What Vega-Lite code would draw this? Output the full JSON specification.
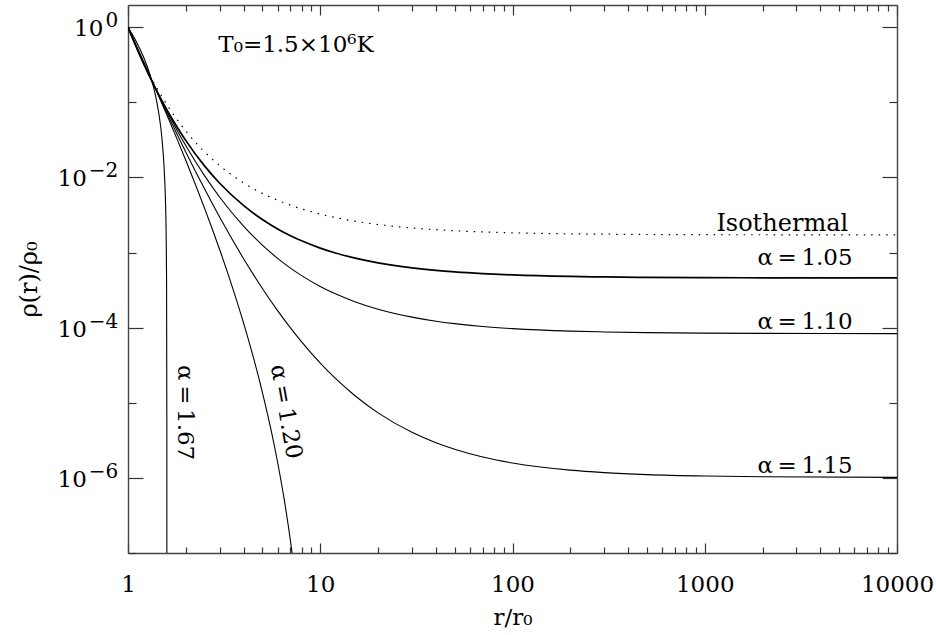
{
  "$schema": "https://vega.github.io/schema/vega-lite/v6.json",
  "width": 769,
  "height": 548,
  "autosize": {"type": "none"},
  "padding": {"left": 128, "top": 5, "right": 39, "bottom": 82},
  "background": "white",
  "config": {"view": {"stroke": null}, "font": "DejaVu Serif"},
  "datasets": {
    "curves": [
      {"curve": "iso", "r": 1, "rho": 1}, {"curve": "iso", "r": 1.1, "rho": 0.5607}, {"curve": "iso", "r": 1.2, "rho": 0.3462}, {"curve": "iso", "r": 1.3, "rho": 0.2302}, {"curve": "iso", "r": 1.4, "rho": 0.1623}, {"curve": "iso", "r": 1.5, "rho": 0.1199}, {"curve": "iso", "r": 1.6, "rho": 0.09191}, {"curve": "iso", "r": 1.8, "rho": 0.05907}, {"curve": "iso", "r": 2, "rho": 0.04148}, {"curve": "iso", "r": 2.5, "rho": 0.02195}, {"curve": "iso", "r": 3, "rho": 0.01436}, {"curve": "iso", "r": 4, "rho": 0.00845}, {"curve": "iso", "r": 5, "rho": 0.006145}, {"curve": "iso", "r": 6, "rho": 0.00497}, {"curve": "iso", "r": 7, "rho": 0.004272}, {"curve": "iso", "r": 8, "rho": 0.003813}, {"curve": "iso", "r": 10, "rho": 0.003252}, {"curve": "iso", "r": 12, "rho": 0.002924}, {"curve": "iso", "r": 15, "rho": 0.00263}, {"curve": "iso", "r": 20, "rho": 0.002365}, {"curve": "iso", "r": 30, "rho": 0.002127}, {"curve": "iso", "r": 40, "rho": 0.002017}, {"curve": "iso", "r": 50, "rho": 0.001954}, {"curve": "iso", "r": 70, "rho": 0.001884}, {"curve": "iso", "r": 100, "rho": 0.001834}, {"curve": "iso", "r": 200, "rho": 0.001776}, {"curve": "iso", "r": 300, "rho": 0.001758}, {"curve": "iso", "r": 500, "rho": 0.001742}, {"curve": "iso", "r": 1000, "rho": 0.001731}, {"curve": "iso", "r": 2000, "rho": 0.001727}, {"curve": "iso", "r": 10000, "rho": 0.001722},

      {"curve": "1.05", "r": 1, "rho": 1}, {"curve": "1.05", "r": 1.1, "rho": 0.5549}, {"curve": "1.05", "r": 1.2, "rho": 0.3353}, {"curve": "1.05", "r": 1.3, "rho": 0.2167}, {"curve": "1.05", "r": 1.4, "rho": 0.1478}, {"curve": "1.05", "r": 1.5, "rho": 0.1055}, {"curve": "1.05", "r": 1.6, "rho": 0.07818}, {"curve": "1.05", "r": 1.8, "rho": 0.04696}, {"curve": "1.05", "r": 2, "rho": 0.03094}, {"curve": "1.05", "r": 2.5, "rho": 0.01427}, {"curve": "1.05", "r": 3, "rho": 0.008371}, {"curve": "1.05", "r": 4, "rho": 0.004211}, {"curve": "1.05", "r": 5, "rho": 0.002756}, {"curve": "1.05", "r": 6, "rho": 0.002067}, {"curve": "1.05", "r": 7, "rho": 0.00168}, {"curve": "1.05", "r": 8, "rho": 0.001434}, {"curve": "1.05", "r": 10, "rho": 0.001148}, {"curve": "1.05", "r": 12, "rho": 0.0009886}, {"curve": "1.05", "r": 15, "rho": 0.0008501}, {"curve": "1.05", "r": 20, "rho": 0.0007301}, {"curve": "1.05", "r": 30, "rho": 0.0006265}, {"curve": "1.05", "r": 40, "rho": 0.00058}, {"curve": "1.05", "r": 50, "rho": 0.0005538}, {"curve": "1.05", "r": 70, "rho": 0.0005252}, {"curve": "1.05", "r": 100, "rho": 0.0005045}, {"curve": "1.05", "r": 200, "rho": 0.0004815}, {"curve": "1.05", "r": 300, "rho": 0.0004742}, {"curve": "1.05", "r": 500, "rho": 0.0004682}, {"curve": "1.05", "r": 1000, "rho": 0.0004638}, {"curve": "1.05", "r": 2000, "rho": 0.0004617}, {"curve": "1.05", "r": 10000, "rho": 0.0004599},

      {"curve": "1.10", "r": 1, "rho": 1}, {"curve": "1.10", "r": 1.1, "rho": 0.5656}, {"curve": "1.10", "r": 1.2, "rho": 0.3428}, {"curve": "1.10", "r": 1.3, "rho": 0.2199}, {"curve": "1.10", "r": 1.4, "rho": 0.1478}, {"curve": "1.10", "r": 1.5, "rho": 0.1034}, {"curve": "1.10", "r": 1.6, "rho": 0.07479}, {"curve": "1.10", "r": 1.8, "rho": 0.04256}, {"curve": "1.10", "r": 2, "rho": 0.02647}, {"curve": "1.10", "r": 2.5, "rho": 0.01058}, {"curve": "1.10", "r": 3, "rho": 0.005463}, {"curve": "1.10", "r": 4, "rho": 0.002236}, {"curve": "1.10", "r": 5, "rho": 0.0012556}, {"curve": "1.10", "r": 6, "rho": 0.0008381}, {"curve": "1.10", "r": 7, "rho": 0.0006217}, {"curve": "1.10", "r": 8, "rho": 0.0004939}, {"curve": "1.10", "r": 10, "rho": 0.0003546}, {"curve": "1.10", "r": 12, "rho": 0.0002825}, {"curve": "1.10", "r": 15, "rho": 0.0002239}, {"curve": "1.10", "r": 20, "rho": 0.0001764}, {"curve": "1.10", "r": 30, "rho": 0.0001383}, {"curve": "1.10", "r": 40, "rho": 0.0001221}, {"curve": "1.10", "r": 50, "rho": 0.0001133}, {"curve": "1.10", "r": 70, "rho": 0.0001038}, {"curve": "1.10", "r": 100, "rho": 0.00009726}, {"curve": "1.10", "r": 200, "rho": 0.00009004}, {"curve": "1.10", "r": 300, "rho": 0.00008776}, {"curve": "1.10", "r": 500, "rho": 0.00008596}, {"curve": "1.10", "r": 1000, "rho": 0.00008464}, {"curve": "1.10", "r": 2000, "rho": 0.00008397}, {"curve": "1.10", "r": 10000, "rho": 0.00008346},

      {"curve": "1.15", "r": 1, "rho": 1}, {"curve": "1.15", "r": 1.1, "rho": 0.5758}, {"curve": "1.15", "r": 1.2, "rho": 0.3501}, {"curve": "1.15", "r": 1.3, "rho": 0.2228}, {"curve": "1.15", "r": 1.4, "rho": 0.1473}, {"curve": "1.15", "r": 1.5, "rho": 0.1007}, {"curve": "1.15", "r": 1.6, "rho": 0.07084}, {"curve": "1.15", "r": 1.8, "rho": 0.03771}, {"curve": "1.15", "r": 2, "rho": 0.02173}, {"curve": "1.15", "r": 2.5, "rho": 0.007056}, {"curve": "1.15", "r": 3, "rho": 0.002953}, {"curve": "1.15", "r": 4, "rho": 0.0008227}, {"curve": "1.15", "r": 5, "rho": 0.0003331}, {"curve": "1.15", "r": 6, "rho": 0.0001689}, {"curve": "1.15", "r": 7, "rho": 0.00009932}, {"curve": "1.15", "r": 8, "rho": 0.00006474}, {"curve": "1.15", "r": 10, "rho": 0.00003381}, {"curve": "1.15", "r": 12, "rho": 0.00002111}, {"curve": "1.15", "r": 15, "rho": 0.00001271}, {"curve": "1.15", "r": 20, "rho": 0.000007345}, {"curve": "1.15", "r": 30, "rho": 0.000004039}, {"curve": "1.15", "r": 40, "rho": 0.000002932}, {"curve": "1.15", "r": 50, "rho": 0.000002401}, {"curve": "1.15", "r": 70, "rho": 0.000001896}, {"curve": "1.15", "r": 100, "rho": 0.000001579}, {"curve": "1.15", "r": 200, "rho": 0.000001268}, {"curve": "1.15", "r": 300, "rho": 0.000001177}, {"curve": "1.15", "r": 500, "rho": 0.000001107}, {"curve": "1.15", "r": 1000, "rho": 0.000001058}, {"curve": "1.15", "r": 2000, "rho": 0.000001034}, {"curve": "1.15", "r": 10000, "rho": 0.000001015},

      {"curve": "1.20", "r": 1, "rho": 1}, {"curve": "1.20", "r": 1.1, "rho": 0.5855}, {"curve": "1.20", "r": 1.2, "rho": 0.3571}, {"curve": "1.20", "r": 1.3, "rho": 0.2254}, {"curve": "1.20", "r": 1.4, "rho": 0.1464}, {"curve": "1.20", "r": 1.5, "rho": 0.09751}, {"curve": "1.20", "r": 1.6, "rho": 0.06635}, {"curve": "1.20", "r": 1.8, "rho": 0.03243}, {"curve": "1.20", "r": 2, "rho": 0.01681}, {"curve": "1.20", "r": 2.25, "rho": 0.007885}, {"curve": "1.20", "r": 2.5, "rho": 0.003914}, {"curve": "1.20", "r": 2.75, "rho": 0.00203}, {"curve": "1.20", "r": 3, "rho": 0.00109}, {"curve": "1.20", "r": 3.5, "rho": 0.0003396}, {"curve": "1.20", "r": 4, "rho": 0.0001133}, {"curve": "1.20", "r": 4.5, "rho": 0.0000393}, {"curve": "1.20", "r": 5, "rho": 0.00001381}, {"curve": "1.20", "r": 5.5, "rho": 0.000004804}, {"curve": "1.20", "r": 6, "rho": 0.000001615}, {"curve": "1.20", "r": 6.5, "rho": 5.092e-7}, {"curve": "1.20", "r": 7, "rho": 1.446e-7}, {"curve": "1.20", "r": 7.15, "rho": 9.63e-8}, {"curve": "1.20", "r": 7.3, "rho": 6.3e-8},

      {"curve": "1.67", "r": 1, "rho": 1}, {"curve": "1.67", "r": 1.1, "rho": 0.6582}, {"curve": "1.67", "r": 1.2, "rho": 0.4119}, {"curve": "1.67", "r": 1.3, "rho": 0.2357}, {"curve": "1.67", "r": 1.35, "rho": 0.1684}, {"curve": "1.67", "r": 1.4, "rho": 0.113}, {"curve": "1.67", "r": 1.45, "rho": 0.0684}, {"curve": "1.67", "r": 1.5, "rho": 0.03411}, {"curve": "1.67", "r": 1.53846, "rho": 0.01471}, {"curve": "1.67", "r": 1.55, "rho": 0.01016}, {"curve": "1.67", "r": 1.5625, "rho": 0.00596}, {"curve": "1.67", "r": 1.58, "rho": 0.001576}, {"curve": "1.67", "r": 1.5873, "rho": 0.0004161}, {"curve": "1.67", "r": 1.5921, "rho": 0.00000619}, {"curve": "1.67", "r": 1.5924, "rho": 1e-8}
    ],
    "alphaLabels": [
      {"r": 5875, "rho": 0.000689, "text": "α\u2009=\u20091.05"},
      {"r": 5875, "rho": 0.000096, "text": "α\u2009=\u20091.10"},
      {"r": 5875, "rho": 0.000001167, "text": "α\u2009=\u20091.15"}
    ],
    "isoLabel": [{"r": 5570, "rho": 0.00191, "text": "Isothermal"}],
    "tempLabel": [{"r": 2.95, "rho": 0.47, "text": "T₀=1.5×10⁶K"}],
    "label167": [{"r": 1.986, "rho": 0.0000074, "text": "α\u2009=\u20091.67"}],
    "label120": [{"r": 6.62, "rho": 0.0000076, "text": "α\u2009=\u20091.20"}],
    "yTicks": [
      {"rho": 1, "base": "10", "exp": "0"},
      {"rho": 0.01, "base": "10", "exp": "−2"},
      {"rho": 0.0001, "base": "10", "exp": "−4"},
      {"rho": 0.000001, "base": "10", "exp": "−6"}
    ]
  },
  "layer": [
    {
      "data": {"name": "curves"},
      "transform": [{"filter": "datum.curve == '1.05'"}],
      "mark": {"type": "line", "interpolate": "monotone", "clip": true, "color": "black", "strokeWidth": 1.7},
      "encoding": {
        "x": {
          "field": "r", "type": "quantitative",
          "scale": {"type": "log", "domain": [1, 10000], "nice": false},
          "axis": {
            "orient": "bottom",
            "values": [1,2,3,4,5,6,7,8,9,10,20,30,40,50,60,70,80,90,100,200,300,400,500,600,700,800,900,1000,2000,3000,4000,5000,6000,7000,8000,9000,10000],
            "format": "d",
            "labelExpr": "(datum.value==1||datum.value==10||datum.value==100||datum.value==1000||datum.value==10000) ? datum.label : ''",
            "tickSize": {"condition": {"test": "datum.value==1||datum.value==10||datum.value==100||datum.value==1000||datum.value==10000", "value": -10}, "value": -6},
            "tickColor": "#333", "tickWidth": 1.2,
            "domainColor": "#444", "domainWidth": 1.4,
            "labelFontSize": 23, "labelColor": "black", "labelPadding": 30, "labelFlush": false, "labelOverlap": false,
            "grid": false,
            "title": "r/r₀", "titleFontSize": 23, "titleFontWeight": "normal", "titleColor": "black", "titlePadding": 6
          }
        },
        "y": {
          "field": "rho", "type": "quantitative",
          "scale": {"type": "log", "domain": [1e-7, 1.98], "nice": false},
          "axis": {
            "orient": "left",
            "values": [1e-7, 1e-6, 1e-5, 1e-4, 1e-3, 1e-2, 1e-1, 1],
            "labels": false,
            "tickSize": {"condition": {"test": "abs(datum.value-1)<1e-6 || abs(datum.value/0.01-1)<1e-6 || abs(datum.value/0.0001-1)<1e-6 || abs(datum.value/0.000001-1)<1e-6", "value": -15}, "value": -8},
            "tickColor": "#333", "tickWidth": 1.2,
            "domainColor": "#444", "domainWidth": 1.4,
            "grid": false,
            "title": "ρ(r)/ρ₀", "titleFontSize": 24, "titleFontWeight": "normal", "titleColor": "black", "titlePadding": 86
          }
        }
      }
    },
    {
      "data": {"name": "curves"},
      "transform": [{"filter": "datum.curve != '1.05' && datum.curve != 'iso'"}],
      "mark": {"type": "line", "interpolate": "monotone", "clip": true, "color": "black", "strokeWidth": 1.1},
      "encoding": {
        "x": {"field": "r", "type": "quantitative", "scale": {"type": "log", "domain": [1, 10000], "nice": false}, "axis": null},
        "y": {"field": "rho", "type": "quantitative", "scale": {"type": "log", "domain": [1e-7, 1.98], "nice": false}, "axis": null},
        "detail": {"field": "curve"}
      }
    },
    {
      "data": {"name": "curves"},
      "transform": [{"filter": "datum.curve == 'iso'"}],
      "mark": {"type": "line", "interpolate": "monotone", "clip": true, "color": "black", "strokeWidth": 1.2, "strokeDash": [1.5, 6]},
      "encoding": {
        "x": {
          "field": "r", "type": "quantitative",
          "scale": {"type": "log", "domain": [1, 10000], "nice": false},
          "axis": {
            "orient": "top",
            "values": [1,2,3,4,5,6,7,8,9,10,20,30,40,50,60,70,80,90,100,200,300,400,500,600,700,800,900,1000,2000,3000,4000,5000,6000,7000,8000,9000,10000],
            "labels": false,
            "tickSize": {"condition": {"test": "datum.value==1||datum.value==10||datum.value==100||datum.value==1000||datum.value==10000", "value": -10}, "value": -6},
            "tickColor": "#333", "tickWidth": 1.2,
            "domainColor": "#444", "domainWidth": 1.4,
            "grid": false, "title": null
          }
        },
        "y": {
          "field": "rho", "type": "quantitative",
          "scale": {"type": "log", "domain": [1e-7, 1.98], "nice": false},
          "axis": {
            "orient": "right",
            "values": [1e-7, 1e-6, 1e-5, 1e-4, 1e-3, 1e-2, 1e-1, 1],
            "labels": false,
            "tickSize": {"condition": {"test": "abs(datum.value-1)<1e-6 || abs(datum.value/0.01-1)<1e-6 || abs(datum.value/0.0001-1)<1e-6 || abs(datum.value/0.000001-1)<1e-6", "value": -15}, "value": -8},
            "tickColor": "#333", "tickWidth": 1.2,
            "domainColor": "#444", "domainWidth": 1.4,
            "grid": false, "title": null
          }
        }
      }
    },
    {
      "data": {"name": "yTicks"},
      "transform": [{"filter": "datum.rho == 1"}],
      "mark": {"type": "text", "align": "right", "baseline": "middle", "dy": 2, "fontSize": 23, "color": "black", "font": "DejaVu Serif"},
      "encoding": {
        "x": {"datum": 0.7438, "type": "quantitative", "scale": {"type": "log", "domain": [1, 10000], "nice": false}, "axis": null},
        "y": {"field": "rho", "type": "quantitative", "scale": {"type": "log", "domain": [1e-7, 1.98], "nice": false}, "axis": null},
        "text": {"field": "base"}
      }
    },
    {
      "data": {"name": "yTicks"},
      "transform": [{"filter": "datum.rho != 1"}],
      "mark": {"type": "text", "align": "right", "baseline": "middle", "dy": 2, "fontSize": 23, "color": "black", "font": "DejaVu Serif"},
      "encoding": {
        "x": {"datum": 0.6106, "type": "quantitative", "scale": {"type": "log", "domain": [1, 10000], "nice": false}, "axis": null},
        "y": {"field": "rho", "type": "quantitative", "scale": {"type": "log", "domain": [1e-7, 1.98], "nice": false}, "axis": null},
        "text": {"field": "base"}
      }
    },
    {
      "data": {"name": "yTicks"},
      "mark": {"type": "text", "align": "right", "baseline": "alphabetic", "fontSize": 20, "color": "black", "font": "DejaVu Serif"},
      "encoding": {
        "x": {"datum": 0.89, "type": "quantitative", "scale": {"type": "log", "domain": [1, 10000], "nice": false}, "axis": null},
        "y": {"field": "rho", "type": "quantitative", "scale": {"type": "log", "domain": [1e-7, 1.98], "nice": false}, "axis": null},
        "text": {"field": "exp"}
      }
    },
    {
      "data": {"name": "alphaLabels"},
      "mark": {"type": "text", "align": "right", "baseline": "alphabetic", "fontSize": 23, "color": "black", "font": "DejaVu Serif"},
      "encoding": {
        "x": {"field": "r", "type": "quantitative", "scale": {"type": "log", "domain": [1, 10000], "nice": false}, "axis": null},
        "y": {"field": "rho", "type": "quantitative", "scale": {"type": "log", "domain": [1e-7, 1.98], "nice": false}, "axis": null},
        "text": {"field": "text"}
      }
    },
    {
      "data": {"name": "isoLabel"},
      "mark": {"type": "text", "align": "right", "baseline": "alphabetic", "fontSize": 24, "color": "black", "font": "DejaVu Serif"},
      "encoding": {
        "x": {"field": "r", "type": "quantitative", "scale": {"type": "log", "domain": [1, 10000], "nice": false}, "axis": null},
        "y": {"field": "rho", "type": "quantitative", "scale": {"type": "log", "domain": [1e-7, 1.98], "nice": false}, "axis": null},
        "text": {"field": "text"}
      }
    },
    {
      "data": {"name": "tempLabel"},
      "mark": {"type": "text", "align": "left", "baseline": "alphabetic", "fontSize": 23, "color": "black", "font": "DejaVu Serif"},
      "encoding": {
        "x": {"field": "r", "type": "quantitative", "scale": {"type": "log", "domain": [1, 10000], "nice": false}, "axis": null},
        "y": {"field": "rho", "type": "quantitative", "scale": {"type": "log", "domain": [1e-7, 1.98], "nice": false}, "axis": null},
        "text": {"field": "text"}
      }
    },
    {
      "data": {"name": "label167"},
      "mark": {"type": "text", "align": "center", "baseline": "middle", "angle": 90, "fontSize": 23, "color": "black", "font": "DejaVu Serif"},
      "encoding": {
        "x": {"field": "r", "type": "quantitative", "scale": {"type": "log", "domain": [1, 10000], "nice": false}, "axis": null},
        "y": {"field": "rho", "type": "quantitative", "scale": {"type": "log", "domain": [1e-7, 1.98], "nice": false}, "axis": null},
        "text": {"field": "text"}
      }
    },
    {
      "data": {"name": "label120"},
      "mark": {"type": "text", "align": "center", "baseline": "middle", "angle": 80, "fontSize": 23, "color": "black", "font": "DejaVu Serif"},
      "encoding": {
        "x": {"field": "r", "type": "quantitative", "scale": {"type": "log", "domain": [1, 10000], "nice": false}, "axis": null},
        "y": {"field": "rho", "type": "quantitative", "scale": {"type": "log", "domain": [1e-7, 1.98], "nice": false}, "axis": null},
        "text": {"field": "text"}
      }
    }
  ],
  "resolve": {"axis": {"x": "independent", "y": "independent"}}
}
